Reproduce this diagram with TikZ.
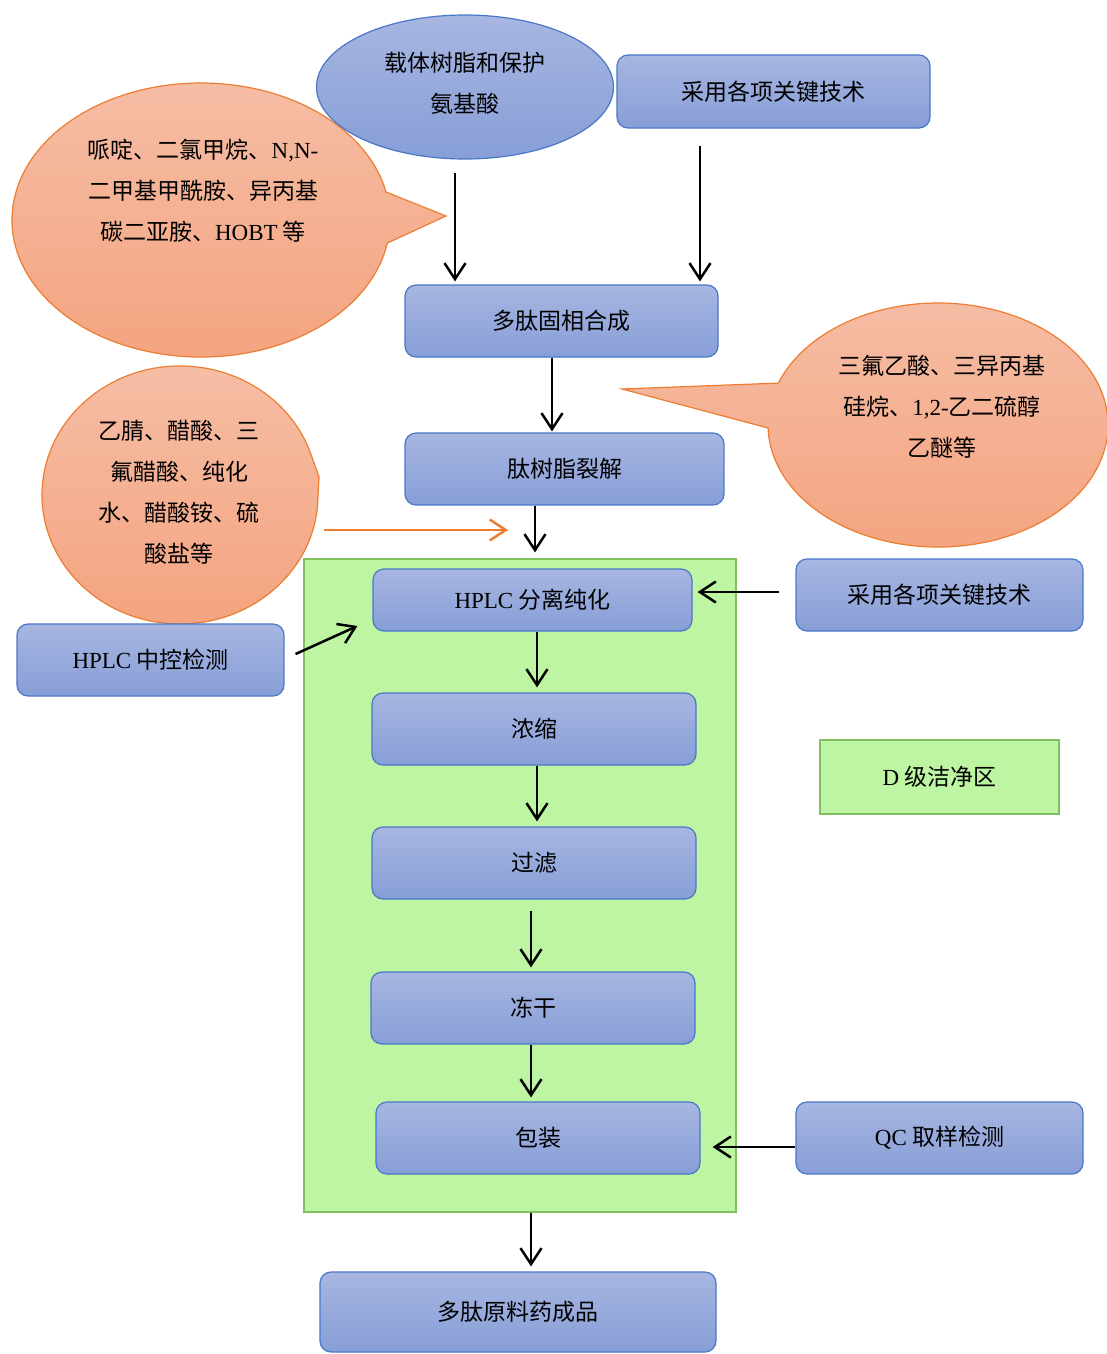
\documentclass[tikz,border=0pt]{standalone}
\usepackage{fontspec}
\setmainfont{Noto Sans CJK SC}
\newfontfamily\lat{Liberation Serif}
\usetikzlibrary{arrows.meta,shapes.geometric}
\definecolor{bTop}{HTML}{A7B6E1}
\definecolor{bBot}{HTML}{879ED7}
\definecolor{bLine}{HTML}{4A78C8}
\definecolor{oTop}{HTML}{F6BEA6}
\definecolor{oBot}{HTML}{F4A37F}
\definecolor{oLine}{HTML}{ED7D31}
\definecolor{gFill}{HTML}{BEF5A3}
\definecolor{gLine}{HTML}{80C060}
\begin{document}
\begin{tikzpicture}[x=1pt,y=-1pt,
  txt/.style={text=black, font=\fontsize{23}{41}\selectfont, align=center, inner sep=0pt},
  box/.style={txt, draw=bLine, line width=1.2pt, rounded corners=11pt, top color=bTop, bottom color=bBot},
  callout/.style={draw=oLine, line width=1.2pt, top color=oTop, bottom color=oBot},
  zone/.style={draw=gLine, line width=1.2pt, fill=gFill, inner sep=0pt},
  arr/.style={-{Straight Barb[length=16pt,width=21pt]}, line width=2.5pt, black},
  oarr/.style={-{Straight Barb[length=16pt,width=21pt]}, line width=2.5pt, oLine}]
\useasboundingbox (0,0) rectangle (1107,1354);

% green clean zone
\node[zone, minimum width=432pt, minimum height=653pt] (zone) at (520,885.5) {};

% callouts
\path[callout] (446,216) -- (387.3,243.1) arc[start angle=9.7, end angle=348.2, x radius=189, y radius=137] -- cycle;
\node[txt] (c1) at (203,191) {哌啶、二氯甲烷、{\lat N,N-}\\二甲基甲酰胺、异丙基\\碳二亚胺、{\lat HOBT} 等};

\path[callout] (622,389) -- (778.4,383.1) arc[start angle=200.1, end angle=538.6, x radius=170, y radius=122] -- cycle;
\node[txt] (c2) at (942,407) {三氟乙酸、三异丙基\\硅烷、{\lat 1,2-}乙二硫醇\\乙醚等};

\path[callout] (319,477) -- (317.5,506.2) arc[start angle=5, end angle=340, x radius=138, y radius=129] -- cycle;
\node[txt] (c3) at (179,492) {乙腈、醋酸、三\\氟醋酸、纯化\\水、醋酸铵、硫\\酸盐等};

% top ellipse
\node[txt, ellipse, draw=bLine, line width=1.2pt, top color=bTop, bottom color=bBot, minimum width=297pt, minimum height=144pt] (e1) at (465,87) {};
\node[txt] (e1t) at (465,83) {载体树脂和保护\\氨基酸};

% boxes
\node[box, minimum width=313pt, minimum height=73pt] (t2) at (773.5,91.5) {采用各项关键技术};
\node[box, minimum width=313pt, minimum height=72pt] (syn) at (561.5,321) {多肽固相合成};
\node[box, minimum width=319pt, minimum height=72pt] (clv) at (564.5,469) {肽树脂裂解};
\node[box, minimum width=319pt, minimum height=62pt] (hp) at (532.5,600) {{\lat HPLC} 分离纯化};
\node[box, minimum width=287pt, minimum height=72pt] (t3) at (939.5,595) {采用各项关键技术};
\node[box, minimum width=267pt, minimum height=72pt] (ctl) at (150.5,660) {{\lat HPLC} 中控检测};
\node[box, minimum width=324pt, minimum height=72pt] (conc) at (534,729) {浓缩};
\node[box, minimum width=324pt, minimum height=72pt] (filt) at (534,863) {过滤};
\node[box, minimum width=324pt, minimum height=72pt] (fd) at (533,1008) {冻干};
\node[box, minimum width=324pt, minimum height=72pt] (pk) at (538,1138) {包装};
\node[box, minimum width=287pt, minimum height=72pt] (qc) at (939.5,1138) {{\lat QC} 取样检测};
\node[txt, draw=gLine, line width=1.2pt, fill=gFill, minimum width=239pt, minimum height=74pt] (dz) at (939.5,777) {{\lat D} 级洁净区};
\node[box, minimum width=396pt, minimum height=80pt] (prod) at (518,1312) {多肽原料药成品};

% connectors
\draw[arr, shorten <=13pt, shorten >=3pt] ([xshift=-10pt]e1.south) -- ([xshift=-10pt]e1.south |- syn.north);
\draw[arr, shorten <=17pt, shorten >=3pt] ([xshift=-73.5pt]t2.south) -- ([xshift=-73.5pt]t2.south |- syn.north);
\draw[arr, shorten >=1pt] ([xshift=-9.5pt]syn.south) -- ([xshift=-9.5pt]syn.south |- clv.north);
\draw[arr, shorten >=6pt] ([xshift=-29.5pt]clv.south) -- ([xshift=-29.5pt]clv.south |- zone.north);
\coordinate (os) at (324,530);
\coordinate (oe) at (508,530);
\draw[oarr] (os) -- (oe);
\draw[arr, shorten <=16pt, shorten >=5pt] ([yshift=3pt]t3.west) -- ([yshift=3pt]t3.west -| hp.east);
\draw[arr, shorten <=12pt] ([yshift=1pt]ctl.east) -- ([xshift=-15pt,yshift=-26pt]hp.west);
\draw[arr, shorten >=5pt] ([xshift=4.5pt]hp.south) -- ([xshift=4.5pt]hp.south |- conc.north);
\draw[arr, shorten >=5pt] ([xshift=3pt]conc.south) -- ([xshift=3pt]conc.south |- filt.north);
\draw[arr, shorten <=11pt, shorten >=4pt] ([xshift=-3pt]filt.south) -- ([xshift=-3pt]filt.south |- fd.north);
\draw[arr, shorten >=4pt] ([xshift=-2pt]fd.south) -- ([xshift=-2pt]fd.south |- pk.north);
\draw[arr, shorten >=12pt] ([yshift=-9pt]qc.west) -- ([yshift=-9pt]qc.west -| pk.east);
\draw[arr, shorten >=5pt] ([xshift=11pt]zone.south) -- ([xshift=11pt]zone.south |- prod.north);
\end{tikzpicture}
\end{document}
